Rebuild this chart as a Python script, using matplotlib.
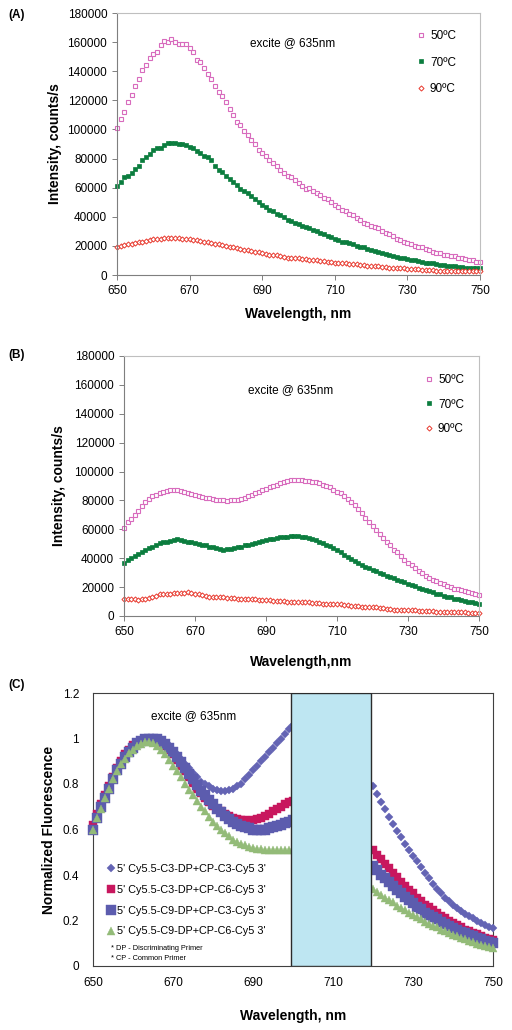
import numpy as np
import matplotlib
matplotlib.use("Agg")
import matplotlib.pyplot as plt

plt.rcParams['font.family'] = ['Liberation Sans', 'DejaVu Sans']

wavelength = np.arange(650, 751)
nan = np.nan

# ---------------- Panel A (counts/s, thousands) ----------------
a_50 = [101, 107, 112, 119, 124, 130, 135, 141, 144, 149,
        152, 153, 158, 161, 160, 162, 160, 159, 159, 159,
        156, 153, 148, 146, 142, 138, 135, 130, 126, 123,
        119, 114, 110, 105, 103, 99, 96, 93, 90, 86,
        84, 82, 79, 77, 75, 72, 70, 68, 67, 65,
        63, 61, 59, 60, 58, 56, 55, 53, 52, 50,
        48, 47, 45, 44, 42, 41, 39, 38, 36, 35,
        34, 33, 32, 30, 29, 28, 27, 25, 24, 23,
        22, 21, 20, 19, 19, 18, 17, 16, 15, 15,
        14, 14, 13, 13, 12, 12, 11, 10, 10, 9,
        9]
a_70 = [61, 64, 67, 68, 70, 73, 75, 79, 81, 83,
        86, 87, 87, 89, 91, 91, 91, 90, 90, 89,
        88, 87, 85, 84, 82, 81, 79, 75, 72, 71,
        68, 66, 64, 62, 59, 58, 56, 54, 52, 50,
        48, 47, 45, 44, 42, 41, 40, 38, 37, 36,
        35, 34, 33, 32, 31, 30, 29, 28, 27, 26,
        25, 24, 23, 22.5, 22, 21, 20, 19.5, 19, 18,
        17, 16.5, 16, 15, 14.5, 14, 13, 12.5, 12, 11.5,
        11, 10.5, 10, 9.5, 9, 8.5, 8, 8, 7.5, 7,
        7, 6.5, 6, 6, 5.5, 5.5, 5, 5, 4.5, 4.5,
        4.5]
a_90 = [19.5, 20, 20.5, 21, 21.5, 22, 22.5, 23, 23.5, 24,
        24.5, 25, 25, 25.5, 25.5, 25.5, 25.5, 25.5, 25, 25,
        24.5, 24, 24, 23.5, 23, 22.5, 22, 21.5, 21, 20.5,
        20, 19.5, 19, 18.5, 18, 17.5, 17, 16.5, 16, 15.5,
        15, 14.5, 14, 14, 13.5, 13, 12.5, 12, 12, 11.5,
        11.5, 11, 11, 10.5, 10, 10, 9.5, 9.5, 9, 9,
        8.5, 8.5, 8, 8, 7.5, 7.5, 7.5, 7, 7, 6.5,
        6.5, 6, 6, 5.5, 5.5, 5, 5, 5, 4.5, 4.5,
        4, 4, 4, 4, 3.5, 3.5, 3.5, 3.5, 3, 3,
        3, 3, 3, 3, 2.5, 2.5, 2.5, 2.5, 2.5, 2.5,
        2.5]

# ---------------- Panel B (counts/s, thousands) ----------------
b_50 = [61, 65, 67, 70, 73, 76, 79, 81, 83, 84,
        85, 86, 86.5, 87, 87, 87, 86.5, 86, 85, 84.5,
        84, 83, 82.5, 82, 81.5, 81, 80.5, 80, 80, 79.5,
        80, 80, 80.5, 81, 82, 83, 84, 85, 86, 87,
        88, 89, 90, 91, 92, 93, 93.5, 94, 94, 94,
        94, 93.5, 93.5, 93, 92.5, 92, 91, 90, 89, 87.5,
        86, 85, 83, 81, 79, 77, 74, 71, 68, 65,
        62, 59.5, 57, 54, 51.5, 49, 46, 44, 41.5, 39,
        37, 35, 33, 31, 29.5, 28, 26.5, 25, 24, 23,
        22, 21, 20, 19, 18.5, 18, 17, 16.5, 16, 15,
        14.5]
b_70 = [37, 39, 40, 41.5, 43, 44, 45.5, 47, 48, 49.5,
        50.5, 51, 51.5, 52, 52.5, 53, 52.5, 52, 51.5, 51,
        50.5, 50, 49.5, 49, 48, 47.5, 47, 46.5, 46, 46.5,
        46.5, 47, 47.5, 48, 49, 49.5, 50, 50.5, 51, 52,
        52.5, 53, 53.5, 54, 54.5, 55, 55, 55.5, 55.5, 55.5,
        55, 54.5, 54, 53.5, 52.5, 51.5, 50.5, 49.5, 48.5, 47,
        45.5, 44, 42.5, 41, 39.5, 38, 37, 35.5, 34, 33,
        32, 31, 30, 29, 28, 27, 26, 25, 24, 23.5,
        22.5, 21.5, 20.5, 19.5, 18.5, 18, 17, 16.5, 15.5, 15,
        14, 13.5, 13, 12, 11.5, 11, 10.5, 10, 9.5, 9,
        8.5]
b_90 = [12, 11.5, 11.5, 11.5, 11, 11.5, 12, 12.5, 13, 14,
        15, 15, 15.5, 15.5, 16, 16, 16, 16, 16.5, 16,
        15.5, 15, 14.5, 14, 13.5, 13.5, 13, 13, 13, 12.5,
        12.5, 12.5, 12, 12, 12, 11.5, 11.5, 11.5, 11, 11,
        11, 11, 10.5, 10.5, 10.5, 10.5, 10, 10, 10, 9.5,
        9.5, 9.5, 9.5, 9, 9, 9, 8.5, 8.5, 8.5, 8,
        8, 8, 7.5, 7.5, 7, 7, 7, 6.5, 6.5, 6,
        6, 6, 5.5, 5.5, 5, 5, 4.5, 4.5, 4.5, 4,
        4, 4, 4, 3.5, 3.5, 3.5, 3.5, 3.5, 3, 3,
        3, 3, 3, 2.5, 2.5, 2.5, 2.5, 2, 2, 2,
        2]

# ---------------- Panel C (normalized) ----------------
# points between 701 and 719 nm are hidden by the shaded box -> not readable
hidden = [nan] * 19
c_s1 = ([0.61, 0.66, 0.70, 0.74, 0.79, 0.83, 0.86, 0.90, 0.92, 0.95,
         0.97, 0.98, 0.99, 1.00, 1.00, 1.00, 1.00, 0.99, 0.98, 0.97,
         0.95, 0.93, 0.91, 0.89, 0.87, 0.85, 0.83, 0.81, 0.80, 0.79,
         0.78, 0.775, 0.77, 0.77, 0.775, 0.78, 0.79, 0.80, 0.82, 0.84,
         0.86, 0.88, 0.90, 0.92, 0.94, 0.96, 0.98, 1.00, 1.02, 1.04,
         1.06] + hidden +
        [0.79, 0.755, 0.72, 0.69, 0.655, 0.625, 0.595, 0.565, 0.535, 0.51,
         0.485, 0.46, 0.435, 0.41, 0.385, 0.36, 0.34, 0.32, 0.30, 0.285,
         0.27, 0.255, 0.24, 0.23, 0.22, 0.21, 0.20, 0.19, 0.18, 0.172,
         0.165])
c_s2 = ([0.62, 0.67, 0.71, 0.75, 0.79, 0.83, 0.87, 0.90, 0.93, 0.95,
         0.97, 0.98, 0.99, 1.00, 1.00, 1.00, 0.99, 0.98, 0.965, 0.95,
         0.93, 0.905, 0.88, 0.855, 0.83, 0.805, 0.78, 0.76, 0.74, 0.72,
         0.705, 0.69, 0.68, 0.67, 0.66, 0.65, 0.645, 0.64, 0.64, 0.635,
         0.64, 0.645, 0.65, 0.66, 0.67, 0.68, 0.69, 0.70, 0.71, 0.72,
         0.725] + hidden +
        [0.51, 0.49, 0.47, 0.45, 0.43, 0.41, 0.39, 0.37, 0.35, 0.335,
         0.32, 0.30, 0.285, 0.27, 0.26, 0.245, 0.235, 0.22, 0.21, 0.20,
         0.19, 0.18, 0.17, 0.16, 0.155, 0.145, 0.14, 0.13, 0.125, 0.12,
         0.115])
c_s3 = ([0.60, 0.65, 0.70, 0.74, 0.78, 0.82, 0.86, 0.89, 0.92, 0.94,
         0.96, 0.98, 0.99, 1.00, 1.00, 1.00, 1.00, 0.99, 0.975, 0.96,
         0.94, 0.92, 0.895, 0.87, 0.845, 0.82, 0.795, 0.77, 0.75, 0.73,
         0.71, 0.69, 0.675, 0.66, 0.645, 0.635, 0.625, 0.615, 0.61, 0.605,
         0.60, 0.60, 0.60, 0.60, 0.605, 0.61, 0.615, 0.62, 0.63, 0.635,
         0.64] + hidden +
        [0.44, 0.42, 0.40, 0.385, 0.37, 0.35, 0.335, 0.32, 0.305, 0.29,
         0.275, 0.26, 0.25, 0.235, 0.225, 0.215, 0.205, 0.195, 0.185, 0.175,
         0.165, 0.16, 0.15, 0.145, 0.135, 0.13, 0.125, 0.12, 0.11, 0.105,
         0.10])
c_s4 = ([0.60, 0.65, 0.69, 0.74, 0.78, 0.82, 0.855, 0.89, 0.91, 0.935,
         0.95, 0.965, 0.975, 0.985, 0.985, 0.98, 0.965, 0.95, 0.93, 0.905,
         0.88, 0.855, 0.83, 0.80, 0.775, 0.75, 0.725, 0.70, 0.68, 0.655,
         0.635, 0.615, 0.60, 0.585, 0.57, 0.555, 0.545, 0.535, 0.53, 0.525,
         0.52, 0.515, 0.515, 0.51, 0.51, 0.51, 0.51, 0.51, 0.51, 0.51,
         0.51] + hidden +
        [0.34, 0.325, 0.31, 0.30, 0.29, 0.28, 0.265, 0.255, 0.245, 0.235,
         0.225, 0.215, 0.205, 0.195, 0.185, 0.175, 0.17, 0.16, 0.152, 0.145,
         0.138, 0.13, 0.123, 0.117, 0.11, 0.104, 0.098, 0.092, 0.087, 0.082,
         0.077])

temp_labels = ['50ºC', '70ºC', '90ºC']
c_labels = ["5' Cy5.5-C3-DP+CP-C3-Cy5 3'", "5' Cy5.5-C3-DP+CP-C6-Cy5 3'",
            "5' Cy5.5-C9-DP+CP-C3-Cy5 3'", "5' Cy5.5-C9-DP+CP-C6-Cy5 3'"]
x_ticks = [650, 670, 690, 710, 730, 750]
yticks_ab = np.arange(0, 180001, 20000)
yticks_c = [0, 0.2, 0.4, 0.6, 0.8, 1.0, 1.2]

PINK = '#D86BBD'
GREEN = '#0B7D3E'
RED = '#E8382D'

W, H = 512, 1030
fig = plt.figure(figsize=(W / 100, H / 100), dpi=100)


def px_axes(left, top, right, bottom):
    return fig.add_axes([left / W, 1 - bottom / H, (right - left) / W, (bottom - top) / H])


def style(ax, spine_col='#7F7F7F', other='#BFBFBF'):
    for s in ['left', 'bottom']:
        ax.spines[s].set_color(spine_col)
        ax.spines[s].set_linewidth(0.8)
    for s in ['top', 'right']:
        ax.spines[s].set_color(other)
        ax.spines[s].set_linewidth(0.8)
    ax.tick_params(direction='out', length=3.5, width=0.7, color='#7F7F7F',
                   labelsize=8.5, pad=3.5)


def temp_panel(ax, s50, s70, s90, leg_px, excite_px, spacing, box):
    left, top, right, bottom = box
    s50 = np.array(s50) * 1000
    s70 = np.array(s70) * 1000
    s90 = np.array(s90) * 1000
    ax.plot(wavelength, s50, ls='none', marker='s', ms=3.3, mfc='white', mec=PINK, mew=0.8,
            label=temp_labels[0], clip_on=False)
    ax.plot(wavelength, s70, ls='none', marker='s', ms=3.4, mfc=GREEN, mec=GREEN, mew=0.5,
            label=temp_labels[1], clip_on=False)
    ax.plot(wavelength, s90, ls='none', marker='D', ms=2.6, mfc='white', mec=RED, mew=0.7,
            label=temp_labels[2], clip_on=False)
    ax.set_xlim(650, 750)
    ax.set_ylim(0, 180000)
    ax.set_xticks(x_ticks)
    ax.set_yticks(yticks_ab)
    style(ax)
    ax.legend(loc='upper left',
              bbox_to_anchor=((leg_px[0] - left) / (right - left), 1 - (leg_px[1] - top) / (bottom - top)),
              frameon=False, fontsize=8.5,
              handlelength=0.6, handletextpad=0.5, labelspacing=spacing, borderpad=0,
              borderaxespad=0)
    ax.text((excite_px[0] - left) / (right - left), 1 - (excite_px[1] - top) / (bottom - top),
            'excite @ 635nm', transform=ax.transAxes, ha='center', va='center', fontsize=8.5)


# Panel A
boxA = (117, 13, 480, 275)
axA = px_axes(*boxA)
temp_panel(axA, a_50, a_70, a_90, (417, 30), (293, 43), 1.23, boxA)
axA.set_ylabel('Intensity, counts/s', fontsize=10, fontweight='bold', labelpad=4)
axA.set_xlabel('Wavelength, nm', fontsize=10, fontweight='bold', labelpad=7.5)
fig.text(8 / W, 1 - 15 / H, '(A)', fontsize=8.5, fontweight='bold', va='center', ha='left')

# Panel B
boxB = (124, 356, 479, 616)
axB = px_axes(*boxB)
temp_panel(axB, b_50, b_70, b_90, (425, 374), (291, 390), 1.06, boxB)
axB.set_ylabel('Intensity, counts/s', fontsize=10, fontweight='bold', labelpad=6)
axB.set_xlabel('Wavelength,nm', fontsize=10, fontweight='bold', labelpad=12.6)
fig.text(8 / W, 1 - 355 / H, '(B)', fontsize=8.5, fontweight='bold', va='center', ha='left')

# Panel C
axC = px_axes(93, 693, 493, 966)
c_series = [c_s1, c_s2, c_s3, c_s4]
c_styles = [dict(marker='D', ms=4.3, color='#6464B4'),
            dict(marker='s', ms=5.5, color='#C8175E'),
            dict(marker='s', ms=6.5, color='#5C5CAE'),
            dict(marker='^', ms=6.0, color='#93BB78')]
handles = []
for vals, st, lab in zip(c_series, c_styles, c_labels):
    ln, = axC.plot(wavelength, vals, ls='none', marker=st['marker'], ms=st['ms'],
                   mfc=st['color'], mec=st['color'], mew=0.3, label=lab, zorder=3, clip_on=False)
    handles.append(ln)
axC.axvspan(699.5, 719.5, facecolor='#BEE6F2', edgecolor='#2B2B2B', lw=1.0, zorder=5)
axC.set_xlim(650, 750)
axC.set_ylim(0, 1.2)
axC.set_xticks(x_ticks)
axC.set_yticks(yticks_c)
axC.set_yticklabels(['0', '0.2', '0.4', '0.6', '0.8', '1', '1.2'])
style(axC, spine_col='#404040', other='#404040')
axC.tick_params(length=0)
axC.tick_params(axis='y', pad=10)
axC.tick_params(axis='x', pad=8)
axC.legend(handles=handles, loc='upper left',
           bbox_to_anchor=((107 - 93) / 400, 1 - (864 - 693) / 273), frameon=False, fontsize=7.8,
           handlelength=0.7, handletextpad=0.25, labelspacing=1.0, borderpad=0, borderaxespad=0)
axC.text((111 - 93) / 400, 1 - (948 - 693) / 273, '* DP - Discriminating Primer', transform=axC.transAxes,
         fontsize=5.3, va='center', ha='left')
axC.text((111 - 93) / 400, 1 - (958.5 - 693) / 273, '* CP - Common Primer', transform=axC.transAxes,
         fontsize=5.3, va='center', ha='left')
axC.text((194 - 93) / 400, 1 - (716 - 693) / 273, 'excite @ 635nm', transform=axC.transAxes,
         ha='center', va='center', fontsize=8.5)
axC.set_ylabel('Normalized Fluorescence', fontsize=10, fontweight='bold', labelpad=5)
axC.set_xlabel('Wavelength, nm', fontsize=10, fontweight='bold', labelpad=14)
fig.text(8 / W, 1 - 685 / H, '(C)', fontsize=8.5, fontweight='bold', va='center', ha='left')

fig.savefig('out.png', dpi=100)
